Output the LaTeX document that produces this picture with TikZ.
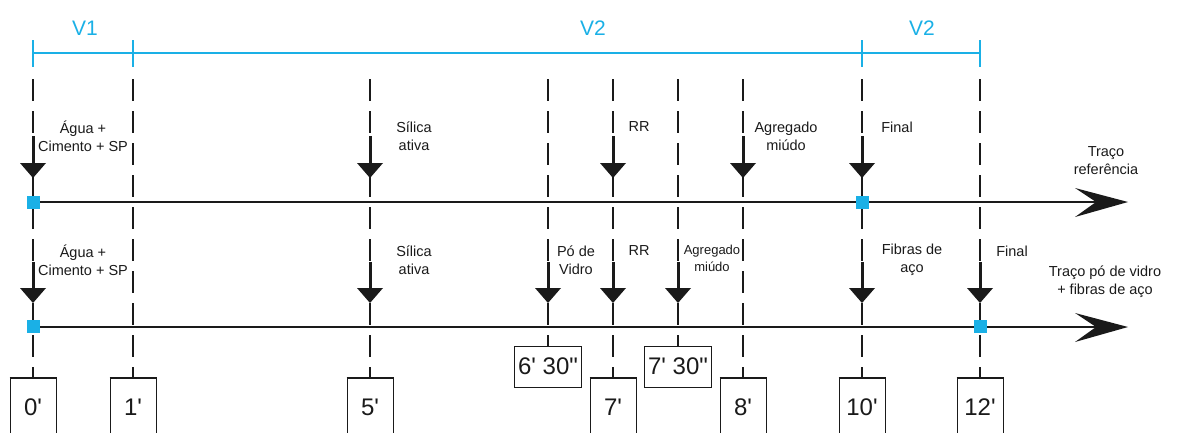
\documentclass[tikz,border=0pt]{standalone}
\usepackage{fontspec}
\setmainfont{Liberation Sans}[Ligatures=TeXOff]
\definecolor{cy}{HTML}{1AB0E6}
\definecolor{ink}{HTML}{1A1A1A}
\begin{document}
\begin{tikzpicture}[x=1pt,y=-1pt,
  vline/.style={ink, line width=1.4pt, dash pattern=on 22pt off 10pt},
  tline/.style={ink, line width=2pt},
  cyline/.style={cy, line width=2.6pt},
  lbl/.style={font=\fontsize{14.5}{18}\selectfont, align=center, text=ink, inner sep=0pt},
  smlbl/.style={font=\fontsize{13}{17}\selectfont, align=center, text=ink, inner sep=0pt},
  vlbl/.style={font=\fontsize{21}{24}\selectfont, text=cy, inner sep=0pt},
  numbox/.style={draw=ink, line width=1pt, fill=white, minimum width=46pt, minimum height=58pt, inner sep=0pt, font=\fontsize{24}{28}\selectfont, text=ink, anchor=north},
  timebox/.style={draw=ink, line width=1pt, fill=white, minimum width=67pt, minimum height=41pt, inner sep=0pt, font=\fontsize{24}{28}\selectfont, text=ink},
  sq/.style={fill=cy, minimum size=13pt, inner sep=0pt}
]
\useasboundingbox (0,0) rectangle (1180,432);

% cyan phase bar
\coordinate (v0) at (33,53);
\coordinate (v3) at (980,53);
\draw[cyline] (v0) -- (v3);
\foreach \x in {33,133,862,980} \draw[cyline] (\x,40) -- (\x,67);
\node[vlbl] (lv1) at (85,28) {V1};
\node[vlbl] (lv2) at (593,28) {V2};
\node[vlbl] (lv3) at (922,28) {V2};

% dashed time lines
\foreach \x/\yb in {33/378,133/378,370/378,548/346,613/378,678/346,743/378,862/378,980/378}
  \draw[vline] (\x,79) -- (\x,\yb);

% timelines
\coordinate (r0) at (33,202);
\coordinate (r1) at (1100,202);
\draw[tline] (r0) -- (r1);
\fill[ink] (1128,202) -- (1075,188) -- (1096,202) -- (1075,217) -- cycle;
\coordinate (p0) at (33,327);
\coordinate (p1) at (1100,327);
\draw[tline] (p0) -- (p1);
\fill[ink] (1128,327) -- (1075,313) -- (1096,327) -- (1075,342) -- cycle;

% drop arrows, reference mix
\foreach \x in {33,370,613,743,862} {
  \draw[ink, line width=3pt] (\x,136) -- (\x,165);
  \fill[ink] ({\x-13},163) -- ({\x+13},163) -- (\x,178) -- cycle;
}
% drop arrows, glass powder + fibre mix
\foreach \x in {33,370,548,613,678,862,980} {
  \draw[ink, line width=3pt] (\x,262) -- (\x,290);
  \fill[ink] ({\x-13},288) -- ({\x+13},288) -- (\x,303) -- cycle;
}

% cyan markers
\node[sq] (s1) at (33,202.5) {};
\node[sq] (s2) at (862,202.5) {};
\node[sq] (s3) at (33,326.5) {};
\node[sq] (s4) at (980,326.5) {};

% top labels
\node[lbl] (a1) at (83,136) {Água +\\Cimento + SP};
\node[lbl] (a2) at (414,136) {Sílica\\ativa};
\node[lbl] (a3) at (639,127) {RR};
\node[lbl] (a4) at (786,136) {Agregado\\miúdo};
\node[lbl] (a5) at (897,127) {Final};
\node[lbl] (a6) at (1106,161) {Traço\\referência};

% bottom labels
\node[lbl] (b1) at (83,260) {Água +\\Cimento + SP};
\node[lbl] (b2) at (414,260) {Sílica\\ativa};
\node[lbl] (b3) at (576,260) {Pó de\\Vidro};
\node[lbl] (b4) at (639,251) {RR};
\node[smlbl] (b5) at (712,258) {Agregado\\miúdo};
\node[lbl] (b6) at (912,260) {Fibras de\\aço};
\node[lbl] (b7) at (1012,251) {Final};
\node[lbl] (b8) at (1105,282) {Traço pó de vidro\\+ fibras de aço};

% time boxes
\foreach \x/\t/\n in {33/0'/n0,133/1'/n1,370/5'/n5,613/7'/n7,743/8'/n8,862/10'/n10,980/12'/n12} {
  \node[numbox] (\n) at (\x,378) {\raisebox{0pt}{\t}};
  \draw[ink, line width=2.6pt] (\n.north west) -- (\n.north east);
}
\node[timebox] (n65) at (548,366.5) {6' 30"};
\node[timebox] (n75) at (678,366.5) {7' 30"};
\end{tikzpicture}
\end{document}
